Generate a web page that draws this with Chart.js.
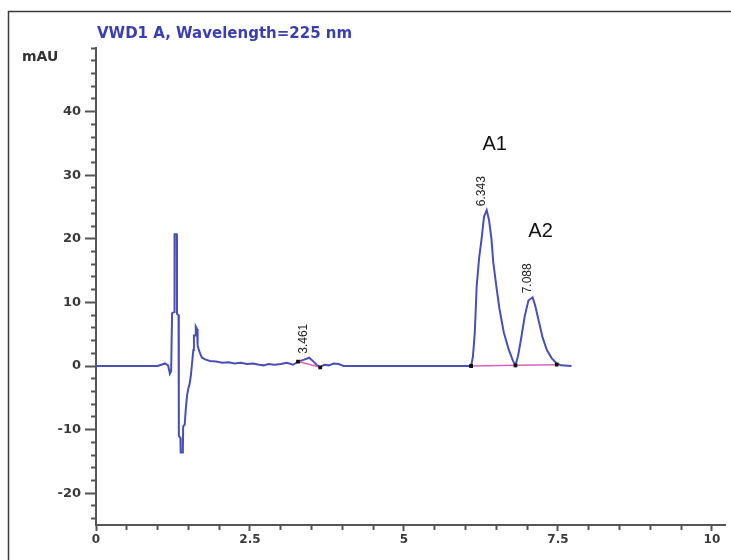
<!DOCTYPE html>
<html>
<head>
<meta charset="utf-8">
<script src="https://cdn.jsdelivr.net/npm/chart.js@4.4.1/dist/chart.umd.min.js"></script>
<style>
	html, body { margin: 0; padding: 0; background: #ffffff; }
	#caixa { position: relative; width: 731px; height: 560px; }
</style>
</head>
<body>
<div id="caixa"><canvas id="meu_cromatograma"></canvas></div>
<script>
//----------------------------------------Dados----------------------------------------
//Tempo de retenção (min) e sinal (mAU) do detector
const tempos_sinal = [0, 0.5, 1.0, 1.06, 1.12, 1.17, 1.2, 1.22, 1.235, 1.27, 1.275, 1.31, 1.315, 1.34, 1.345, 1.37, 1.375, 1.41, 1.415, 1.44,
	1.46, 1.48, 1.5, 1.52, 1.54, 1.56, 1.58, 1.59, 1.61, 1.62, 1.64, 1.65, 1.68, 1.72, 1.78, 1.85, 1.95, 2.05, 2.15, 2.25,
	2.35, 2.45, 2.55, 2.65, 2.72, 2.8, 2.9, 3.0, 3.1, 3.2, 3.28, 3.38, 3.461, 3.52, 3.58, 3.64, 3.7, 3.78, 3.86, 3.94,
	4.02, 4.5, 5.0, 5.5, 6.0, 6.09, 6.12, 6.15, 6.18, 6.22, 6.26, 6.3, 6.343, 6.38, 6.42, 6.45, 6.5, 6.55, 6.62, 6.7,
	6.77, 6.81, 6.85, 6.9, 6.96, 7.02, 7.088, 7.13, 7.19, 7.25, 7.32, 7.4, 7.48, 7.55, 7.72];

const valores_sinal = [0, 0, 0, 0.2, 0.4, 0.1, -1.2, -0.8, 8.3, 8.5, 20.7, 20.7, 8.2, 8.0, -11, -11.3, -13.6, -13.6, -9.5, -9.2,
	-6.5, -4.5, -3.5, -2.8, -1.5, 0.5, 2.5, 4.8, 4.8, 6.2, 5.8, 3.2, 2.2, 1.3, 1.0, 0.8, 0.7, 0.5, 0.6, 0.4,
	0.5, 0.3, 0.4, 0.2, 0.1, 0.3, 0.2, 0.3, 0.5, 0.2, 0.7, 1.0, 1.3, 0.8, 0.2, -0.2, 0.2, 0.1, 0.4, 0.3,
	0, 0, 0, 0, 0, 0, 1.5, 5.3, 12.5, 17, 20, 23.5, 24.5, 23, 20, 16.3, 12.5, 9, 5.3, 2.6,
	0.8, 0.1, 1.5, 4.2, 7.8, 10.3, 10.8, 9.5, 7, 4.5, 2.5, 1.2, 0.4, 0.1, 0];

//Linhas de base da integração
const base1_tempos = [3.28, 3.64];
const base1_valores = [0.7, -0.2];
const base2_tempos = [6.09, 6.81, 7.48];
const base2_valores = [0, 0.1, 0.2];

//Picos identificados
const picos_tempo = [3.461, 6.343, 7.088];
const picos_altura = [1.3, 24.5, 10.8];
const picos_texto = ["3.461", "6.343", "7.088"];
const picos_nome = ["", "A1", "A2"];

//Eixos
const eixo_x_ticks = [0, 0.5, 1, 1.5, 2, 2.5, 3, 3.5, 4, 4.5, 5, 5.5, 6, 6.5, 7, 7.5, 8, 8.5, 9, 9.5, 10];
const eixo_x_rotulos = [0, 2.5, 5, 7.5, 10];
const eixo_y_ticks = [-24, -22, -20, -18, -16, -14, -12, -10, -8, -6, -4, -2, 0, 2, 4, 6, 8, 10, 12, 14, 16, 18,
	20, 22, 24, 26, 28, 30, 32, 34, 36, 38, 40, 42, 44, 46, 48, 50];
const eixo_y_rotulos = [-20, -10, 0, 10, 20, 30, 40];

const titulo_sinal = "VWD1 A, Wavelength=225 nm";
const unidade_y = "mAU";


//----------------------------------------Funções----------------------------------------
function juntar_pontos(xs, ys){
	return xs.map((x, i) => ({x: x, y: ys[i]}));
}

function eh_maior_x(v){
	return eixo_x_rotulos.includes(v);
}

function eh_maior_y(v){
	return eixo_y_rotulos.includes(v);
}

//Moldura, título e rótulos dos picos
const plugin_anotacoes = {
	id: "anotacoes",
	beforeDraw(chart){
		const ctx = chart.ctx;
		ctx.save();
		ctx.strokeStyle = "#3a3a3a";
		ctx.lineWidth = 1.5;
		ctx.strokeRect(8.5, 11.5, 740, 600);
		ctx.restore();
	},
	afterDraw(chart){
		const ctx = chart.ctx;
		const sx = chart.scales.x;
		const sy = chart.scales.y;
		ctx.save();

		ctx.fillStyle = "#3b3fae";
		ctx.font = "bold 15px 'DejaVu Sans'";
		ctx.textAlign = "left";
		ctx.textBaseline = "middle";
		ctx.fillText(titulo_sinal, 97, 34);

		ctx.fillStyle = "#333333";
		ctx.font = "bold 14px 'DejaVu Sans'";
		ctx.fillText(unidade_y, 22, 57);

		picos_tempo.forEach((t, i) => {
			const px = sx.getPixelForValue(t);
			const py = sy.getPixelForValue(picos_altura[i]);

			ctx.save();
			ctx.translate(px - 5, py - 4);
			ctx.rotate(-Math.PI / 2);
			ctx.fillStyle = "#222222";
			ctx.font = "12px 'Liberation Sans'";
			ctx.textAlign = "left";
			ctx.textBaseline = "middle";
			ctx.fillText(picos_texto[i], 0, 0);
			ctx.restore();

			if(picos_nome[i]){
				ctx.fillStyle = "#111111";
				ctx.font = "20px 'Liberation Sans'";
				ctx.textAlign = "center";
				ctx.textBaseline = "middle";
				ctx.fillText(picos_nome[i], px + 8, py - 66);
			}
		});

		ctx.restore();
	}
};


//----------------------------------------Gráfico----------------------------------------
const cromatograma = new Chart(document.getElementById("meu_cromatograma"), {
	type: "line",
	data: {
		datasets: [
			{
				label: "sinal",
				data: juntar_pontos(tempos_sinal, valores_sinal),
				borderColor: "#4a4fb6",
				borderWidth: 2,
				pointRadius: 0,
				tension: 0,
				order: 2
			},
			{
				label: "base1",
				data: juntar_pontos(base1_tempos, base1_valores),
				borderColor: "#d862c0",
				borderWidth: 1.5,
				pointRadius: 1.6,
				pointStyle: "rect",
				pointBackgroundColor: "#111111",
				pointBorderColor: "#111111",
				tension: 0,
				order: 1
			},
			{
				label: "base2",
				data: juntar_pontos(base2_tempos, base2_valores),
				borderColor: "#d862c0",
				borderWidth: 1.5,
				pointRadius: 1.6,
				pointStyle: "rect",
				pointBackgroundColor: "#111111",
				pointBorderColor: "#111111",
				tension: 0,
				order: 1
			}
		]
	},
	options: {
		responsive: true,
		maintainAspectRatio: false,
		animation: false,
		events: [],
		layout: {
			padding: {left: 0, top: 48, right: 0, bottom: 0}
		},
		plugins: {
			legend: {display: false},
			tooltip: {enabled: false}
		},
		scales: {
			x: {
				type: "linear",
				min: 0,
				max: 10.22,
				afterBuildTicks: s => { s.ticks = eixo_x_ticks.map(v => ({value: v})); },
				afterFit: s => { s.height = 35; },
				border: {display: true, color: "#555555", width: 2},
				grid: {
					drawOnChartArea: false,
					drawTicks: true,
					tickLength: 6,
					tickColor: "#555555",
					tickWidth: 2,
					tickBorderDash: c => eh_maior_x(c.tick ? c.tick.value : 0) ? [] : [4, 100]
				},
				ticks: {
					padding: 2,
					color: "#3a3a3a",
					font: {family: "'DejaVu Sans'", size: 12, weight: "bold"},
					maxRotation: 0,
					autoSkip: false,
					callback: v => eh_maior_x(v) ? String(v) : ""
				}
			},
			y: {
				min: -25,
				max: 50,
				afterBuildTicks: s => { s.ticks = eixo_y_ticks.map(v => ({value: v})); },
				afterFit: s => { s.width = 96; },
				border: {display: true, color: "#555555", width: 2},
				grid: {
					drawOnChartArea: false,
					drawTicks: true,
					tickLength: 11,
					tickColor: "#555555",
					tickWidth: 2,
					tickBorderDash: c => eh_maior_y(c.tick ? c.tick.value : 0) ? [] : [0, 6, 5, 100]
				},
				ticks: {
					padding: 4,
					color: "#3a3a3a",
					font: {family: "'DejaVu Sans'", size: 13, weight: "bold"},
					autoSkip: false,
					callback: v => eh_maior_y(v) ? String(v) : ""
				}
			}
		}
	},
	plugins: [plugin_anotacoes]
});
</script>
</body>
</html>
